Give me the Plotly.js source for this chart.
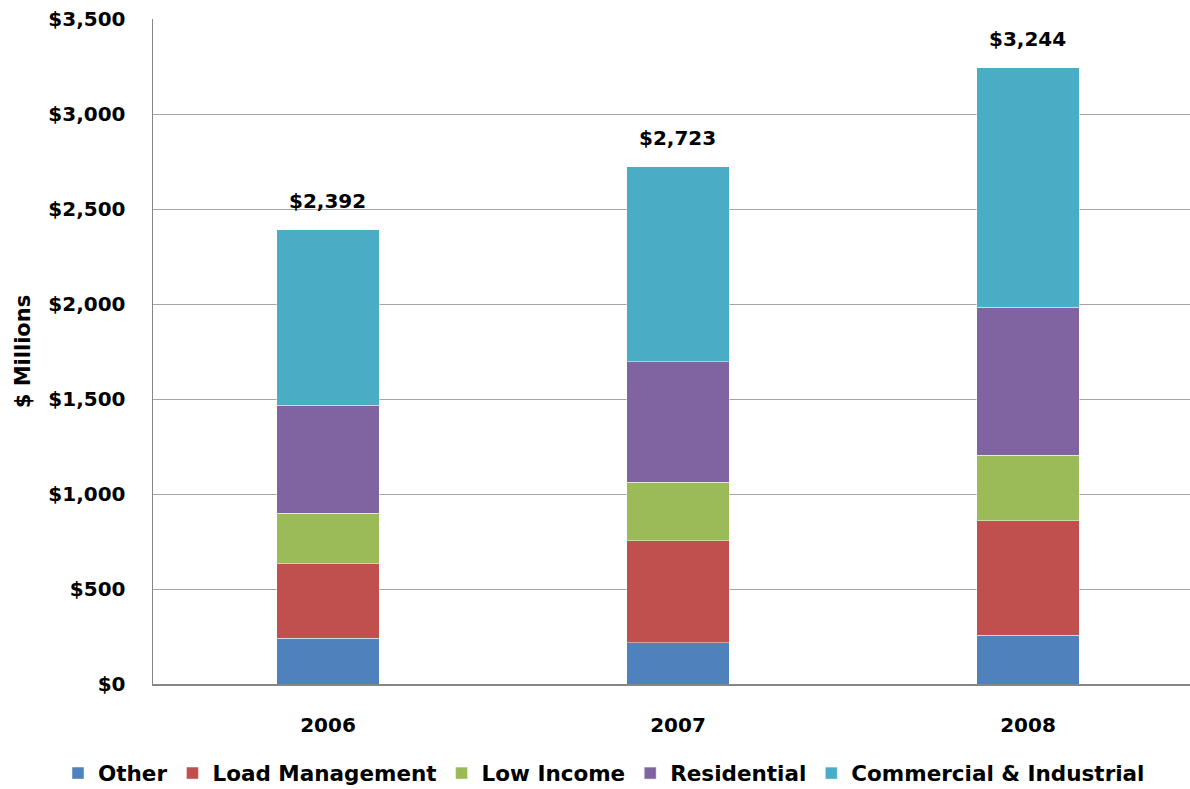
<!DOCTYPE html>
<html>
<head>
<meta charset="utf-8">
<script src="https://cdn.plot.ly/plotly-3.0.1.min.js"></script>
<style>html,body{margin:0;padding:0;background:#fff;}#chart{width:1190px;height:789px;}</style>
</head>
<body>
<div id="chart"></div>
<script>
const years = ['2006', '2007', '2008'];
const other = [240, 217, 256];
const loadManagement = [393, 537, 604];
const lowIncome = [265, 307, 345];
const residential = [569, 635, 777];
const commercialIndustrial = [925, 1027, 1262];
const seriesNames = ['Other', 'Load Management', 'Low Income', 'Residential', 'Commercial & Industrial'];
const seriesColors = ['#4F81BD', '#C0504D', '#9BBB59', '#8064A2', '#4BACC6'];
const yTickVals = [0, 500, 1000, 1500, 2000, 2500, 3000, 3500];
const yTickText = ['$0', '$500', '$1,000', '$1,500', '$2,000', '$2,500', '$3,000', '$3,500'];

const seriesValues = [other, loadManagement, lowIncome, residential, commercialIndustrial];
const FONT = 'DejaVu Sans, Liberation Sans, Arial, sans-serif';

const traces = seriesValues.map((vals, i) => ({
  type: 'bar',
  name: seriesNames[i],
  x: years,
  y: vals,
  width: 0.294,
  marker: {color: seriesColors[i], line: {color: 'rgba(255,255,255,0.45)', width: 1}},
  hoverinfo: 'y+name'
}));

const totals = years.map((_, j) => seriesValues.reduce((s, arr) => s + arr[j], 0));
const annotations = years.map((yr, j) => ({
  x: j, y: totals[j], xref: 'x', yref: 'y',
  text: '$' + totals[j].toLocaleString('en-US'),
  showarrow: false, yanchor: 'bottom', yshift: 15,
  font: {family: FONT, size: 20, color: '#000', weight: 'bold'}
}));

const layout = {
  width: 1190, height: 789,
  margin: {l: 153, r: 0, t: 19, b: 105, autoexpand: false},
  paper_bgcolor: '#fff', plot_bgcolor: '#fff',
  barmode: 'stack',
  showlegend: true,
  font: {family: FONT, size: 20, color: '#000', weight: 'bold'},
  xaxis: {
    type: 'category', range: [-0.5, 2.463],
    showgrid: false, showline: true, linecolor: '#868686', linewidth: 1.5,
    ticks: '', ticklabelstandoff: 22,
    tickfont: {family: FONT, size: 20, color: '#000', weight: 'bold'},
    fixedrange: true
  },
  yaxis: {
    range: [0, 3500], tickvals: yTickVals, ticktext: yTickText,
    showgrid: true, gridcolor: '#a6a6a6', gridwidth: 1,
    showline: true, linecolor: '#868686', linewidth: 1.5,
    zeroline: false, ticks: '', ticklabelstandoff: 22,
    tickfont: {family: FONT, size: 20, color: '#000', weight: 'bold'},
    title: {text: '$ Millions', standoff: 12, font: {family: FONT, size: 21, color: '#000', weight: 'bold'}},
    fixedrange: true
  },
  legend: {
    orientation: 'h', traceorder: 'normal',
    x: -0.0916, xanchor: 'left', y: -0.134, yanchor: 'middle',
    font: {family: FONT, size: 21.5, color: '#000', weight: 'bold'},
    itemwidth: 30
  },
  annotations: annotations
};

Plotly.newPlot('chart', traces, layout, {displayModeBar: false, staticPlot: true});
</script>
</body>
</html>
